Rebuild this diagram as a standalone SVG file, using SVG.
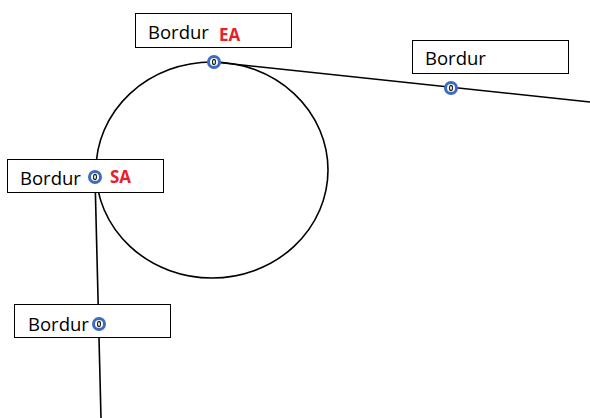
<svg xmlns="http://www.w3.org/2000/svg" width="590" height="418" viewBox="0 0 590 418">
<style>
.box{fill:#fff;stroke:#000;stroke-width:1}
.lbl{font-family:"Open Sans","DejaVu Sans",sans-serif;font-size:18.5px;fill:#000}
.red{font-family:"Open Sans","DejaVu Sans",sans-serif;font-size:17px;font-weight:bold;fill:#e8202a}
.ln{fill:none;stroke:#000;stroke-width:1.6}
</style>
<defs>
<g id="pt"><circle r="5.5" fill="#fff" stroke="#3d6bbf" stroke-width="3"/><ellipse rx="1.5" ry="2.6" fill="#fff" stroke="#222" stroke-width="1.2"/></g>
</defs>
<g id="connectors">
<ellipse class="ln" cx="212" cy="170" rx="116" ry="108"/>
<path class="ln" d="M214 62 L590 102"/>
<path class="ln" d="M95 177 L101 418"/>
</g>
<g id="node-ea">
<rect class="box" x="135.5" y="13.5" width="156" height="34"/>
<text class="lbl" x="148" y="39">Bordur</text>
<text class="red" x="219" y="41">EA</text>
<use href="#pt" x="214" y="62"/>
</g>
<g id="node-right">
<rect class="box" x="412.5" y="40.5" width="156" height="33"/>
<text class="lbl" x="425" y="65">Bordur</text>
<use href="#pt" x="451" y="88"/>
</g>
<g id="node-sa">
<rect class="box" x="7.5" y="159.5" width="156" height="33"/>
<text class="lbl" x="20" y="185">Bordur</text>
<text class="red" x="110" y="183">SA</text>
<use href="#pt" x="95" y="177"/>
</g>
<g id="node-bottom">
<rect class="box" x="14.5" y="304.5" width="156" height="33"/>
<text class="lbl" x="28" y="331">Bordur</text>
<use href="#pt" x="99" y="324"/>
</g>
</svg>
